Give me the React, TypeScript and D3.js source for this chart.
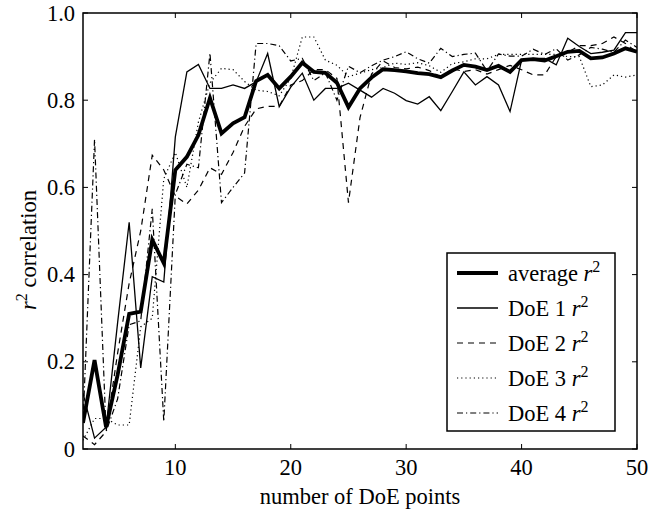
import React from "react";
import * as d3 from "d3";

const xs = d3.range(2, 51);
const avg = [0.06,0.204,0.05,0.17,0.31,0.315,0.48,0.426,0.64,0.67,0.72,0.805,0.724,0.747,0.761,0.844,0.858,0.827,0.854,0.886,0.865,0.863,0.84,0.784,0.827,0.852,0.871,0.869,0.866,0.862,0.86,0.853,0.868,0.881,0.877,0.869,0.879,0.865,0.892,0.894,0.891,0.901,0.911,0.913,0.896,0.898,0.907,0.919,0.911];
const doe1 = [0.128,0.025,0.05,0.29,0.52,0.186,0.395,0.383,0.716,0.865,0.882,0.827,0.827,0.835,0.827,0.842,0.907,0.785,0.83,0.862,0.80,0.827,0.827,0.839,0.823,0.807,0.827,0.816,0.799,0.791,0.808,0.776,0.82,0.865,0.835,0.854,0.835,0.774,0.892,0.896,0.896,0.881,0.942,0.923,0.907,0.91,0.915,0.955,0.955];
const doe2 = [0.03,0.01,0.04,0.22,0.38,0.50,0.674,0.64,0.58,0.562,0.594,0.645,0.63,0.68,0.74,0.78,0.786,0.786,0.835,0.845,0.87,0.87,0.85,0.565,0.76,0.86,0.89,0.875,0.872,0.876,0.868,0.853,0.872,0.866,0.87,0.86,0.87,0.88,0.87,0.858,0.858,0.90,0.91,0.925,0.925,0.93,0.945,0.93,0.91];
const doe3 = [0.02,0.07,0.07,0.055,0.055,0.28,0.30,0.62,0.68,0.60,0.75,0.84,0.873,0.87,0.843,0.823,0.82,0.81,0.85,0.945,0.945,0.892,0.88,0.854,0.862,0.87,0.875,0.885,0.882,0.886,0.879,0.864,0.884,0.888,0.895,0.895,0.905,0.905,0.905,0.905,0.905,0.905,0.90,0.90,0.831,0.835,0.858,0.853,0.858];
const doe4 = [0.06,0.71,0.04,0.115,0.285,0.294,0.551,0.063,0.584,0.653,0.645,0.908,0.565,0.60,0.633,0.93,0.93,0.925,0.89,0.896,0.845,0.863,0.80,0.878,0.863,0.879,0.892,0.90,0.911,0.895,0.885,0.919,0.90,0.905,0.908,0.867,0.906,0.901,0.901,0.917,0.905,0.918,0.892,0.904,0.921,0.917,0.91,0.938,0.921];

const xTicks = [10, 20, 30, 40, 50];
const yTicks = [0, 0.2, 0.4, 0.6, 0.8, 1.0];
const yTickLabels = ["0", "0.2", "0.4", "0.6", "0.8", "1.0"];
const seriesNames = ["average", "DoE 1", "DoE 2", "DoE 3", "DoE 4"];

const L = 83, R = 637, T = 13, B = 449;
const FONT = "'Liberation Serif', 'Times New Roman', serif";
const FS = 22.5;
const SUP = 16;

const styles = [
  { w: 3.8, dash: "" },
  { w: 1.3, dash: "" },
  { w: 1.2, dash: "6,5" },
  { w: 1.2, dash: "1.2,3" },
  { w: 1.2, dash: "6,3,1.2,3" },
];

export default function App() {
  const x = d3.scaleLinear().domain([2, 50]).range([L, R]);
  const y = d3.scaleLinear().domain([0, 1]).range([B, T]);
  const line = d3.line<number>().x((_, i) => x(xs[i])).y((d) => y(d));
  const all = [avg, doe1, doe2, doe3, doe4];

  const lx = 447, lr = 615, ltop = 253, lbot = 431;
  const rowY = [273, 308, 343, 378, 413];

  return (
    <svg width={651} height={514} style={{ position: "absolute", left: 0, top: 0, background: "#fff" }} fontFamily={FONT}>
      <rect x={0} y={0} width={651} height={514} fill="#fff" />
      <defs>
        <clipPath id="pa"><rect x={L} y={T} width={R - L} height={B - T} /></clipPath>
      </defs>
      <g clipPath="url(#pa)">
        {all.map((s, i) => (
          <path key={i} d={line(s) || ""} fill="none" stroke="#000" strokeWidth={styles[i].w}
            strokeDasharray={styles[i].dash || undefined} strokeLinejoin="miter" />
        ))}
      </g>
      <rect x={L} y={T} width={R - L} height={B - T} fill="none" stroke="#000" strokeWidth={1.5} />
      {xTicks.map((t) => (
        <g key={"x" + t}>
          <line x1={x(t)} x2={x(t)} y1={B} y2={B - 5} stroke="#000" strokeWidth={1} />
          <line x1={x(t)} x2={x(t)} y1={T} y2={T + 5} stroke="#000" strokeWidth={1} />
          <text x={x(t)} y={475} textAnchor="middle" fontSize={FS}>{t}</text>
        </g>
      ))}
      {yTicks.map((t, i) => (
        <g key={"y" + t}>
          <line x1={L} x2={L + 5} y1={y(t)} y2={y(t)} stroke="#000" strokeWidth={1} />
          <line x1={R} x2={R - 5} y1={y(t)} y2={y(t)} stroke="#000" strokeWidth={1} />
          <text x={75} y={y(t) + 7.5} textAnchor="end" fontSize={FS}>{yTickLabels[i]}</text>
        </g>
      ))}
      <text x={(L + R) / 2} y={504} textAnchor="middle" fontSize={FS}>number of DoE points</text>
      <text transform={`translate(36,${(T + B) / 2 + 19}) rotate(-90)`} textAnchor="middle" fontSize={FS}>
        <tspan fontStyle="italic">r</tspan>
        <tspan dy={-9} fontSize={SUP}>2</tspan>
        <tspan dy={9}> correlation</tspan>
      </text>
      <rect x={lx} y={ltop} width={lr - lx} height={lbot - ltop} fill="#fff" stroke="#000" strokeWidth={1.5} />
      {seriesNames.map((n, i) => (
        <g key={n}>
          <line x1={457} x2={498} y1={rowY[i]} y2={rowY[i]} stroke="#000" strokeWidth={styles[i].w}
            strokeDasharray={styles[i].dash || undefined} />
          <text x={508} y={rowY[i] + 7.5} fontSize={FS}>
            <tspan>{n} </tspan>
            <tspan fontStyle="italic">r</tspan>
            <tspan dy={-9} fontSize={SUP}>2</tspan>
          </text>
        </g>
      ))}
    </svg>
  );
}
